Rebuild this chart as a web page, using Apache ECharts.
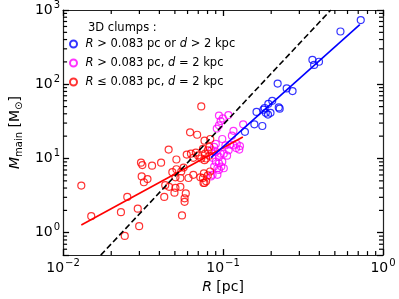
<!DOCTYPE html>
<html><head><meta charset="utf-8">
<script src="https://cdn.jsdelivr.net/npm/echarts@6/dist/echarts.min.js"></script>
<style>html,body{margin:0;padding:0;background:#fff}#c{width:399px;height:299px}</style>
</head><body><div id="c"></div>
<script>
// [R (pc), M_main (Msun)]
var bluePts = [
 [0.726,731],[0.542,513],[0.362,213],[0.371,182],[0.398,201],[0.2195,102],[0.250,87.8],
 [0.272,80.9],[0.203,59.8],[0.192,54.5],[0.182,47.9],[0.179,45.5],[0.162,42.4],[0.185,41.2],
 [0.191,39.1],[0.198,41.2],[0.223,48.8],[0.226,46.9],[0.157,28.9],[0.176,27.4],[0.137,22.9]
];
var magentaPts = [
 [0.0943,37.9],[0.0997,34.6],[0.108,38.5],[0.0966,31.9],[0.0943,28.0],[0.0914,25.3],
 [0.1336,28.9],[0.1162,23.6],[0.1136,20.3],[0.0989,18.3],[0.1035,15.0],[0.111,15.4],
 [0.1162,15.0],[0.1218,15.7],[0.1276,14.7],[0.1084,12.9],[0.1207,13.8],[0.1263,13.2],
 [0.0901,15.7],[0.088,14.3],[0.0845,12.9],[0.0901,12.25],[0.0966,11.6],[0.1011,11.6],
 [0.0943,10.5],[0.086,10.2],[0.0901,9.05],[0.0943,8.6],[0.0989,9.05],[0.088,7.78],
 [0.0922,7.39],[0.0975,7.78],[0.1011,7.39],[0.086,6.03],[0.0922,6.03],[0.0943,7.02],
 [0.084,5.74],[0.106,10.9]
];
var redPts = [
 [0.0130,4.32],[0.0150,1.67],[0.0252,3.04],[0.0230,1.89],[0.0293,2.11],[0.0299,1.225],
 [0.0243,0.905],[0.0307,8.78],[0.0313,8.16],[0.0310,5.74],[0.0337,5.29],[0.0320,4.79],
 [0.0360,8.01],[0.0410,8.78],[0.0457,13.2],[0.0622,22.5],[0.0689,20.9],[0.0731,50.3],
 [0.0766,17.4],[0.0511,9.70],[0.0593,11.3],[0.0630,11.6],[0.0676,12.0],[0.0652,10.2],
 [0.0698,11.0],[0.0731,10.0],[0.0482,6.54],[0.0511,7.17],[0.0548,6.68],[0.0567,7.54],
 [0.0504,5.57],[0.0541,5.46],[0.0608,5.46],[0.0652,6.03],[0.0721,5.57],[0.0759,6.29],
 [0.0755,4.69],[0.0435,4.37],[0.0460,4.15],[0.0504,4.03],[0.0541,4.15],[0.0497,3.46],
 [0.0429,3.04],[0.0585,3.39],[0.0575,2.91],[0.0575,2.61],[0.0554,1.71],[0.0832,18.3],
 [0.0749,13.5],[0.0821,14.3],[0.0784,10.0],[0.0766,9.50],[0.083,6.68],[0.0784,4.94],
 [0.0749,5.46],[0.0803,5.92],[0.0766,4.69],[0.0803,12.9],[0.0773,11.6],[0.0821,10.9]
];
var redFit = [[0.0130,1.274],[0.133,19.5]];
var blueFit = [[0.084,10.3],[0.716,635]];
var dashLine = [[0.0172,0.5],[0.472,1000]];
var legendNames = ['blue','magenta','red'];
var legendLabels = {
  blue: '{i|R} > 0.083 pc or {i|d} > 2 kpc',
  magenta: '{i|R} > 0.083 pc, {i|d} = 2 kpc',
  red: '{i|R} \u2264 0.083 pc, {i|d} = 2 kpc'
};
var xRange = [0.01, 1];
var yRange = [0.5, 1000];
var xTickExp = {'0.01':'\u22122','0.1':'\u22121','1':'0'};
var yTickExp = {'1':'0','10':'1','100':'2','1000':'3'};
var xMinorTicks = [0.02,0.03,0.04,0.05,0.06,0.07,0.08,0.09,0.2,0.3,0.4,0.5,0.6,0.7,0.8,0.9];
var yMinorTicks = [0.6,0.7,0.8,0.9,2,3,4,5,6,7,8,9,20,30,40,50,60,70,80,90,200,300,400,500,600,700,800,900];

var FONT = 'DejaVu Sans';
var AX = '#222';
var chart = echarts.init(document.getElementById('c'), null, {renderer:'canvas'});
function axisCommon(extra){
  return Object.assign({
    type:'log', logBase:10,
    axisLine:{show:true, onZero:false, lineStyle:{color:AX, width:1.2}},
    axisTick:{show:true, inside:true, length:6, lineStyle:{color:'#000', width:1.3}},
    minorTick:{show:false},
    splitLine:{show:false}, minorSplitLine:{show:false}
  }, extra);
}
var tickRich = {
  b:{fontFamily:FONT, fontSize:14, color:'#000', lineHeight:20},
  s:{fontFamily:FONT, fontSize:10, color:'#000', lineHeight:10, verticalAlign:'top', padding:[0,0,0,1]}
};
function scatter(name, data, color){
  return {name:name, type:'scatter', data:data, symbol:'circle', symbolSize:7,
    itemStyle:{color:'rgba(0,0,0,0)', borderColor:color, borderWidth:1.2}, z:3, silent:true};
}
function tickLine(x1, y1, x2, y2){
  return {type:'line', shape:{x1:x1, y1:y1, x2:x2, y2:y2}, style:{stroke:'#000', lineWidth:1.2}};
}
function minorX(params, api){
  var v = api.value(0);
  var b = api.coord([v, yRange[0]]), t = api.coord([v, yRange[1]]);
  return {type:'group', children:[
    tickLine(b[0], b[1], b[0], b[1]-4),
    tickLine(t[0], t[1], t[0], t[1]+4)
  ]};
}
function minorY(params, api){
  var v = api.value(1);
  var l = api.coord([xRange[0], v]), r = api.coord([xRange[1], v]);
  return {type:'group', children:[
    tickLine(l[0], l[1], l[0]+4, l[1]),
    tickLine(r[0], r[1], r[0]-4, r[1])
  ]};
}
chart.setOption({
  animation:false,
  backgroundColor:'#fff',
  textStyle:{fontFamily:FONT},
  grid:{left:52, right:16, top:8, bottom:40},
  title:{text:'3D clumps :', left:83, top:17, textStyle:{fontFamily:FONT, fontSize:11.5, fontWeight:'normal', color:'#000'}},
  legend:{
    data:legendNames, orient:'vertical', left:69, top:38, padding:0, itemWidth:14, itemHeight:7, itemGap:7,
    formatter:function(n){return legendLabels[n];},
    textStyle:{fontFamily:FONT, fontSize:11.5, color:'#000', rich:{i:{fontStyle:'italic', fontFamily:FONT, fontSize:11.5, color:'#000'}}}
  },
  xAxis:[
    axisCommon({min:xRange[0], max:xRange[1], position:'bottom',
      axisLabel:{show:true, color:'#000', margin:3, rich:tickRich,
        formatter:function(v){ var e = xTickExp[String(+v.toPrecision(3))]; return e===undefined ? '' : '{b|10}{s|'+e+'}'; }},
      name:'{i|R} [pc]', nameLocation:'middle', nameGap:19,
      nameTextStyle:{fontFamily:FONT, fontSize:14, color:'#000', rich:{i:{fontStyle:'italic', fontFamily:FONT, fontSize:14, color:'#000'}}}
    }),
    axisCommon({min:xRange[0], max:xRange[1], position:'top', axisLabel:{show:false}})
  ],
  yAxis:[
    axisCommon({min:yRange[0], max:yRange[1], position:'left',
      axisLabel:{show:true, color:'#000', margin:3, rich:tickRich,
        formatter:function(v){ var e = yTickExp[String(+v.toPrecision(3))]; return e===undefined ? '' : '{b|10}{s|'+e+'}'; }},
      name:'{i|M}{s|main} [M{s|\u2299}]', nameLocation:'middle', nameGap:36,
      nameTextStyle:{fontFamily:FONT, fontSize:14, color:'#000', rich:{
        i:{fontStyle:'italic', fontFamily:FONT, fontSize:14, color:'#000', lineHeight:18},
        s:{fontFamily:FONT, fontSize:10, color:'#000', verticalAlign:'bottom', lineHeight:18, padding:[4,0,0,0]}
      }}
    }),
    axisCommon({min:yRange[0], max:yRange[1], position:'right', axisLabel:{show:false}})
  ],
  series:[
    scatter('blue', bluePts, '#0000ff'),
    scatter('magenta', magentaPts, '#ff00ff'),
    scatter('red', redPts, '#ff0000'),
    {type:'line', data:redFit, symbol:'none', lineStyle:{color:'#ff0000', width:1.6}, z:4, silent:true},
    {type:'line', data:blueFit, symbol:'none', lineStyle:{color:'#0000ff', width:1.6}, z:4, silent:true},
    {type:'line', data:dashLine, symbol:'none', lineStyle:{color:'#000', width:1.6, type:[6,3]}, z:5, silent:true},
    {type:'custom', coordinateSystem:'cartesian2d', clip:false, silent:true, z:6,
      data:xMinorTicks.map(function(v){return [v, yRange[0]];}), renderItem:minorX},
    {type:'custom', coordinateSystem:'cartesian2d', clip:false, silent:true, z:6,
      data:yMinorTicks.map(function(v){return [xRange[0], v];}), renderItem:minorY}
  ]
});
</script></body></html>
